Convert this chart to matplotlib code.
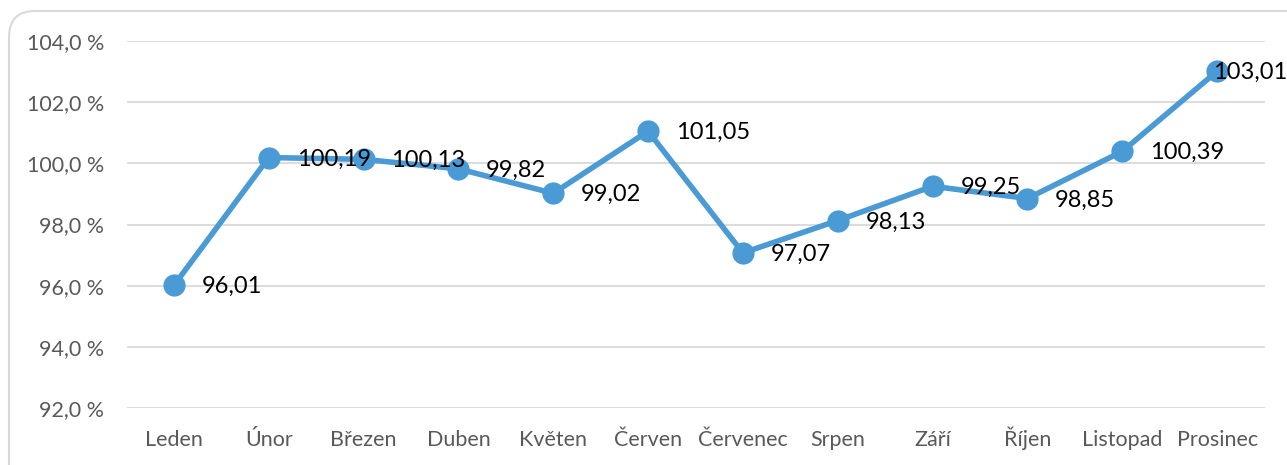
import matplotlib
matplotlib.use('Agg')
import matplotlib.pyplot as plt
import matplotlib.patches as mpatches
from matplotlib.transforms import IdentityTransform
from matplotlib.ticker import FuncFormatter

MONTHS = ['Leden', 'Únor', 'Březen', 'Duben', 'Květen', 'Červen',
          'Červenec', 'Srpen', 'Září', 'Říjen', 'Listopad', 'Prosinec']
VALUES = [96.01, 100.19, 100.13, 99.82, 99.02, 101.05,
          97.07, 98.13, 99.25, 98.85, 100.39, 103.01]
Y_TICKS = [92, 94, 96, 98, 100, 102, 104]

LINE_COLOR = '#4a9bd5'
GRID_COLOR = '#d9d9d9'
TEXT_GRAY = '#595959'

plt.rcParams['font.family'] = ['Lato', 'DejaVu Sans']

W, H, DPI = 1287, 465, 100
fig = plt.figure(figsize=(W / DPI, H / DPI), dpi=DPI)
ax = fig.add_axes([126.5 / W, 1 - 408 / H, 1138 / W, 367 / H])

# rounded chart-area border, running off the right and bottom edges
border = mpatches.FancyBboxPatch((9, -40), W + 40, H - 11 + 40,
                                 boxstyle='round,pad=0,rounding_size=26',
                                 transform=IdentityTransform(),
                                 facecolor='white', edgecolor=GRID_COLOR,
                                 linewidth=1.5, zorder=-10)
fig.patches.append(border)

x = list(range(len(MONTHS)))
ax.plot(x, VALUES, color=LINE_COLOR, linewidth=4, marker='o',
        markersize=16, markeredgewidth=0, zorder=3, solid_capstyle='round')

for i, v in enumerate(VALUES):
    label = f'{v:.2f}'.replace('.', ',')
    dx = 20 if i < len(VALUES) - 1 else -3
    ax.annotate(label, (i, v), xytext=(dx, -1), textcoords='offset points',
                ha='left', va='center', fontsize=17, color='black',
                zorder=4, annotation_clip=False)

ax.set_xlim(-0.5, len(MONTHS) - 0.5)
ax.set_ylim(92, 104)
ax.set_xticks(x)
ax.set_xticklabels(MONTHS)
ax.set_yticks(Y_TICKS)
ax.yaxis.set_major_formatter(FuncFormatter(lambda v, p: f'{v:.1f} %'.replace('.', ',')))
ax.tick_params(axis='both', length=0, labelsize=15.5, labelcolor=TEXT_GRAY)
ax.tick_params(axis='y', pad=16)
ax.tick_params(axis='x', pad=27.5)
for lbl in ax.get_xticklabels():
    lbl.set_verticalalignment('baseline')
ax.grid(axis='y', color=GRID_COLOR, linewidth=1.3)
ax.set_axisbelow(True)
for s in ax.spines.values():
    s.set_visible(False)
ax.patch.set_alpha(0)

fig.savefig('out.png', dpi=DPI)
